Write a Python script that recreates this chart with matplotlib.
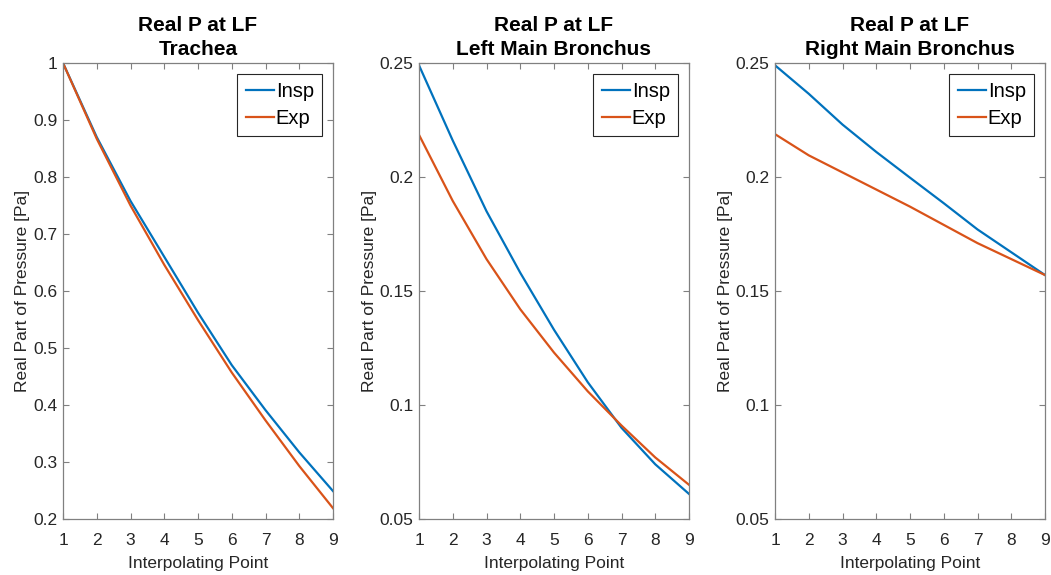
import matplotlib
matplotlib.use('Agg')
import matplotlib.pyplot as plt

# ==================== DATA ====================
points = [1, 2, 3, 4, 5, 6, 7, 8, 9]

trachea_insp = [1.000, 0.870, 0.758, 0.660, 0.562, 0.470, 0.391, 0.317, 0.249]
trachea_exp  = [1.000, 0.867, 0.750, 0.646, 0.549, 0.457, 0.373, 0.293, 0.219]

left_insp = [0.249, 0.216, 0.185, 0.158, 0.133, 0.110, 0.090, 0.074, 0.061]
left_exp  = [0.2185, 0.1895, 0.164, 0.142, 0.123, 0.106, 0.091, 0.077, 0.065]

right_insp = [0.249, 0.2365, 0.223, 0.211, 0.1997, 0.1885, 0.177, 0.167, 0.157]
right_exp  = [0.2188, 0.2095, 0.202, 0.1945, 0.187, 0.179, 0.171, 0.164, 0.157]

titles = ['Real P at LF\nTrachea',
          'Real P at LF\nLeft Main Bronchus',
          'Real P at LF\nRight Main Bronchus']
y_limits = [(0.2, 1.0), (0.05, 0.25), (0.05, 0.25)]
y_ticks = [[0.2, 0.3, 0.4, 0.5, 0.6, 0.7, 0.8, 0.9, 1.0],
           [0.05, 0.1, 0.15, 0.2, 0.25],
           [0.05, 0.1, 0.15, 0.2, 0.25]]
y_ticklabels = [['0.2', '0.3', '0.4', '0.5', '0.6', '0.7', '0.8', '0.9', '1'],
                ['0.05', '0.1', '0.15', '0.2', '0.25'],
                ['0.05', '0.1', '0.15', '0.2', '0.25']]
series = [(trachea_insp, trachea_exp),
          (left_insp, left_exp),
          (right_insp, right_exp)]

# ==================== STYLE ====================
BLUE = '#0072BD'
ORANGE = '#D95319'
AXIS_GRAY = '#262626'
EDGE_GRAY = '#808080'
plt.rcParams['font.family'] = ['Liberation Sans', 'DejaVu Sans']

fig = plt.figure(figsize=(10.51, 5.75), dpi=100)
lefts = [63 / 1051, 419 / 1051, 775 / 1051]
width = 270 / 1051
bottom = 1 - 519 / 575
height = 456 / 575

for i in range(3):
    ax = fig.add_axes([lefts[i], bottom, width, height])
    insp, exp_ = series[i]
    ax.plot(points, insp, color=BLUE, linewidth=1.6, label='Insp')
    ax.plot(points, exp_, color=ORANGE, linewidth=1.6, label='Exp')

    ax.set_xlim(1, 9)
    ax.set_ylim(*y_limits[i])
    ax.set_xticks(points)
    ax.set_yticks(y_ticks[i])
    ax.set_yticklabels(y_ticklabels[i])

    for spine in ax.spines.values():
        spine.set_color(EDGE_GRAY)
        spine.set_linewidth(0.9)
    ax.tick_params(direction='in', top=True, right=True, length=4,
                   width=0.8, color=EDGE_GRAY, labelsize=12.5,
                   labelcolor=AXIS_GRAY)
    ax.tick_params(axis='x', pad=10)
    ax.tick_params(axis='y', pad=4)

    ax.set_title(titles[i], fontsize=15, fontweight='bold', pad=6,
                 linespacing=1.3)
    ax.set_xlabel('Interpolating Point', fontsize=12.5, color=AXIS_GRAY,
                  labelpad=6)
    ax.set_ylabel('Real Part of Pressure [Pa]', fontsize=12.5,
                  color=AXIS_GRAY, labelpad=2)

    leg = ax.legend(loc='upper right', fontsize=14.5, fancybox=False,
                    framealpha=1, edgecolor=AXIS_GRAY, handlelength=1.4,
                    handletextpad=0.1, borderpad=0.4, labelspacing=0.4,
                    borderaxespad=0.55)
    leg.get_frame().set_linewidth(0.8)

fig.savefig('out.png', dpi=100)
